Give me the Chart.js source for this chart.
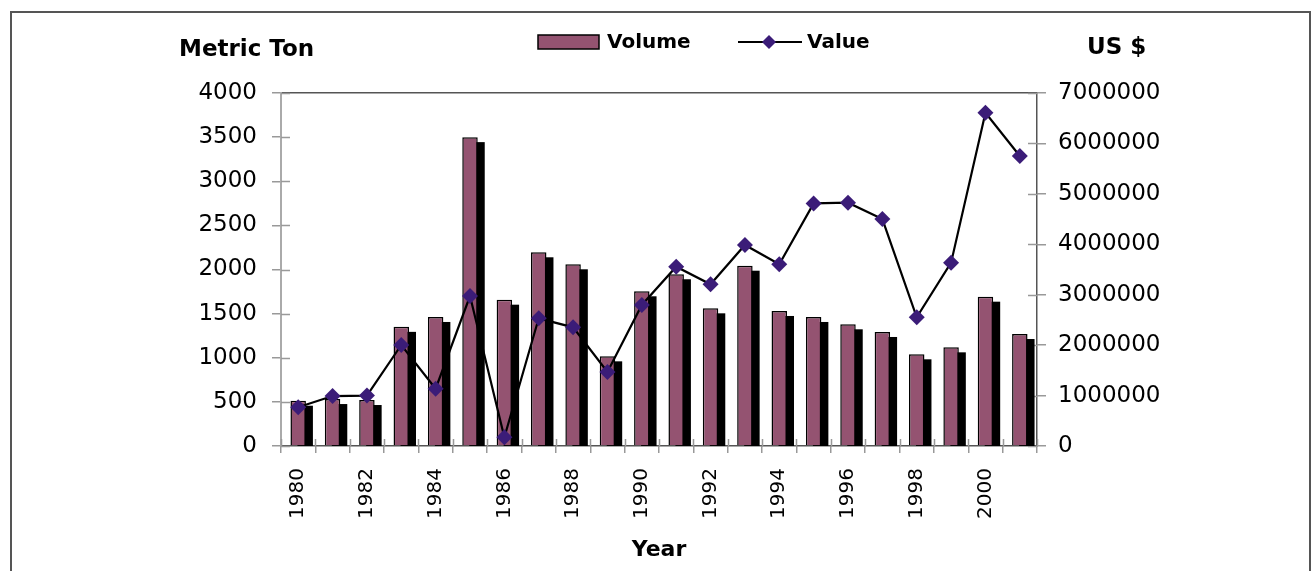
<!DOCTYPE html>
<html>
<head>
<meta charset="utf-8">
<script src="https://cdn.jsdelivr.net/npm/chart.js@4/dist/chart.umd.min.js"></script>
<style>
  body { margin: 0; background: #fff; }
  canvas { display: block; }
</style>
</head>
<body>
<canvas id="chart" width="1312" height="571"></canvas>
<script>
// 年（カテゴリ）
const years = ['1980', '1981', '1982', '1983', '1984', '1985', '1986', '1987', '1988', '1989', '1990',
    '1991', '1992', '1993', '1994', '1995', '1996', '1997', '1998', '1999', '2000', '2001'];

// 数量（Metric Ton）
const volume = [513, 532, 521, 1350, 1462, 3500, 1658, 2195, 2059, 1016, 1753,
    1946, 1560, 2043, 1530, 1462, 1379, 1292, 1039, 1118, 1692, 1269];

// 金額（US $）
const value = [767000, 990000, 1000000, 2003000, 1136000, 2974000, 172000, 2532000, 2353000, 1467000, 2796000,
    3556000, 3206000, 3986000, 3603000, 4810000, 4825000, 4500000, 2552000, 3635000, 6609000, 5750000];

// 軸の目盛
const leftTicks = [0, 500, 1000, 1500, 2000, 2500, 3000, 3500, 4000];
const rightTicks = [0, 1000000, 2000000, 3000000, 4000000, 5000000, 6000000, 7000000];

const barColor = '#945371';
const pointColor = '#3b1c78';
const FONT = 'DejaVu Sans';

Chart.defaults.font.family = FONT;
Chart.defaults.color = '#000';

// 棒の影（右下にずらした黒）: 棒の要素の位置から描く
const barShadow = {
    id: 'barShadow',
    beforeDatasetDraw(chart, args) {
        if (args.index !== 0) return;
        const ctx = chart.ctx;
        const area = chart.chartArea;
        ctx.save();
        ctx.beginPath();
        ctx.rect(area.left, area.top, area.right - area.left, area.bottom - area.top);
        ctx.clip();
        ctx.fillStyle = '#000';
        args.meta.data.forEach(bar => {
            const p = bar.getProps(['x', 'y', 'base', 'width'], true);
            ctx.fillRect(p.x - p.width / 2 + 7, p.y + 5, p.width, p.base - p.y);
        });
        ctx.restore();
    }
};

// 外枠・軸タイトル・凡例・内側の目盛
const decorations = {
    id: 'decorations',
    beforeDraw(chart) {
        const ctx = chart.ctx;
        ctx.save();
        ctx.fillStyle = '#fff';
        ctx.fillRect(0, 0, chart.width, chart.height);
        ctx.strokeStyle = '#555';
        ctx.lineWidth = 2;
        ctx.strokeRect(11, 12, 1299, 600);
        ctx.restore();
    },
    beforeDatasetsDraw(chart) {
        const ctx = chart.ctx;
        const area = chart.chartArea;
        const y = chart.scales.y, y1 = chart.scales.y1;
        ctx.save();
        ctx.strokeStyle = '#999';
        ctx.lineWidth = 1.5;
        ctx.beginPath();
        y.ticks.forEach((t, i) => {
            const py = Math.round(y.getPixelForTick(i)) + 0.5;
            ctx.moveTo(area.left, py);
            ctx.lineTo(area.left + 9, py);
        });
        y1.ticks.forEach((t, i) => {
            const py = Math.round(y1.getPixelForTick(i)) + 0.5;
            ctx.moveTo(area.right - 9, py);
            ctx.lineTo(area.right, py);
        });
        for (let i = 0; i <= years.length; i++) {
            const px = Math.round(area.left + (area.right - area.left) * i / years.length) + 0.5;
            ctx.moveTo(px, area.bottom - 7);
            ctx.lineTo(px, area.bottom);
        }
        ctx.stroke();
        ctx.restore();
    },
    afterDraw(chart) {
        const ctx = chart.ctx;
        ctx.save();
        ctx.fillStyle = '#000';
        ctx.textBaseline = 'middle';
        ctx.textAlign = 'left';
        ctx.font = 'bold 23px ' + FONT;
        ctx.fillText('Metric Ton', 179, 50);
        ctx.fillText('US $', 1087, 48);

        // 凡例
        ctx.fillStyle = barColor;
        ctx.fillRect(538, 35, 61, 14);
        ctx.strokeStyle = '#000';
        ctx.lineWidth = 1.5;
        ctx.strokeRect(538, 35, 61, 14);
        ctx.font = 'bold 20px ' + FONT;
        ctx.fillStyle = '#000';
        ctx.fillText('Volume', 607, 43);

        ctx.lineWidth = 2;
        ctx.beginPath();
        ctx.moveTo(738, 42);
        ctx.lineTo(802, 42);
        ctx.stroke();
        ctx.fillStyle = pointColor;
        ctx.beginPath();
        ctx.moveTo(769, 35);
        ctx.lineTo(776, 42);
        ctx.lineTo(769, 49);
        ctx.lineTo(762, 42);
        ctx.closePath();
        ctx.fill();
        ctx.fillStyle = '#000';
        ctx.fillText('Value', 807, 43);
        ctx.restore();
    }
};

new Chart(document.getElementById('chart'), {
    type: 'bar',
    data: {
        labels: years,
        datasets: [{
            type: 'bar',
            label: 'Volume',
            data: volume,
            yAxisID: 'y',
            order: 2,
            backgroundColor: barColor,
            borderColor: '#000',
            borderWidth: 1.5,
            barPercentage: 0.45,
            categoryPercentage: 1,
            clip: 0
        }, {
            type: 'line',
            label: 'Value',
            data: value,
            yAxisID: 'y1',
            order: 1,
            borderColor: '#000',
            borderWidth: 2.2,
            tension: 0,
            pointStyle: 'rectRot',
            pointRadius: 8,
            pointBackgroundColor: pointColor,
            pointBorderColor: pointColor,
            pointBorderWidth: 0
        }]
    },
    options: {
        responsive: false,
        devicePixelRatio: 1,
        animation: false,
        layout: { padding: { top: 93, left: 0, right: 0, bottom: 0 } },
        plugins: {
            legend: { display: false },
            tooltip: { enabled: false }
        },
        scales: {
            x: {
                afterFit: scale => { scale.height = 125; },
                grid: { offset: true, drawOnChartArea: false, tickLength: 7, tickColor: '#999', lineWidth: 1.5 },
                border: { color: '#555', width: 1.5 },
                ticks: {
                    autoSkip: false,
                    minRotation: 90,
                    maxRotation: 90,
                    padding: 15,
                    font: { size: 20 },
                    callback: (v, i) => (i % 2 === 0 ? years[i] : '')
                },
                title: {
                    display: true,
                    text: 'Year',
                    font: { size: 22, weight: 'bold' },
                    padding: { top: 0, bottom: 8 }
                }
            },
            y: {
                position: 'left',
                min: 0,
                max: 4000,
                afterFit: scale => { scale.width = 281; },
                afterBuildTicks: scale => { scale.ticks = leftTicks.map(v => ({ value: v })); },
                grid: {
                    color: ctx => (ctx.tick && ctx.tick.value === 4000 ? '#555' : 'rgba(0,0,0,0)'),
                    lineWidth: 1.5,
                    tickLength: 9,
                    tickColor: '#999'
                },
                border: { color: '#aaa', width: 2 },
                ticks: { padding: 15, font: { size: 23 }, callback: v => String(v) }
            },
            y1: {
                position: 'right',
                min: 0,
                max: 7000000,
                afterFit: scale => { scale.width = 275; },
                afterBuildTicks: scale => { scale.ticks = rightTicks.map(v => ({ value: v })); },
                grid: { drawOnChartArea: false, tickLength: 9, tickColor: '#999', lineWidth: 1.5 },
                border: { color: '#555', width: 1.5 },
                ticks: { padding: 12, font: { size: 23 }, callback: v => String(v) }
            }
        }
    },
    plugins: [barShadow, decorations]
});
</script>
</body>
</html>
